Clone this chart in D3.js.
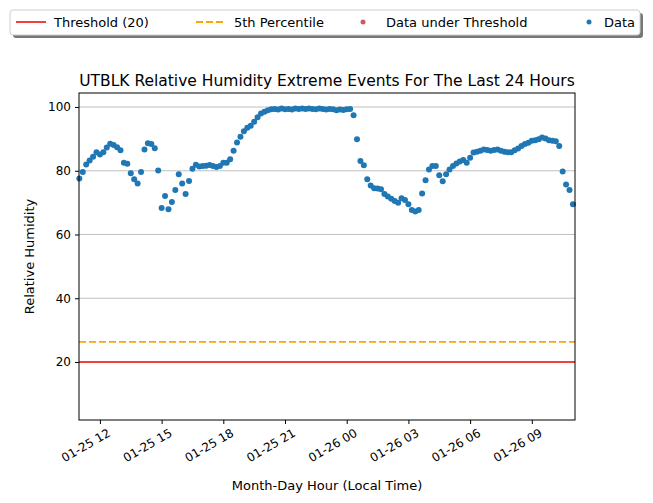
<!DOCTYPE html>
<html>
<head>
<meta charset="utf-8">
<script src="https://cdn.jsdelivr.net/npm/d3@7"></script>
<style>
  body { margin: 0; background: #fff; }
  text { font-family: "DejaVu Sans", sans-serif; }
</style>
</head>
<body>
<svg id="chart" width="653" height="503"></svg>
<script>
// readings every 10 minutes from 01-25 11:00
const startTime = new Date(2024, 0, 25, 11, 0);
const humidity = [
  77.6, 79.6, 82, 83.2, 84.4, 85.8, 85.1, 85.8, 87.3, 88.5, 88.1, 87.4, 86.4, 82.5, 82.2, 79.2, 77.3, 76, 79.6, 86.7,
  88.6, 88.4, 87.1, 80.1, 68.3, 72.1, 67.9, 70.2, 74, 78.9, 76, 72.7, 76.8, 80.6, 81.9,
  81.3, 81.5, 81.6, 81.8, 81.5, 81.2, 81.5, 82.5, 82.5, 83.6, 86.3, 88.9, 90.7, 92.4, 93.5, 94.1, 95.4, 96.8, 98, 98.5, 99, 99.3,
  99.4, 99.2, 99.5, 99.3, 99.4, 99.2, 99.5, 99.4, 99.5, 99.4, 99.5, 99.4, 99.3, 99.5, 99.4, 99.2, 99.4, 99.3, 99.0, 99.2, 99.1, 99.3, 99.4,
  97.4, 89.9, 83.1, 81.7, 77.3, 75.4, 74.5, 74.4, 74.2, 72.7, 71.9, 71.2, 70.5, 70, 71.4, 70.8, 69.5, 67.7, 67.2, 67.7,
  72.9, 77, 80.4, 81.5, 81.5, 78.6, 76.7, 78.9, 80.4, 81.5, 82.3, 82.9, 83.4, 82.5, 84.1, 85.7, 86, 86.3, 86.7, 86.5,
  86.3, 86.5, 86.7, 86.3, 86, 85.8, 85.8, 86.4, 87, 87.8, 88.4, 88.8, 89.4, 89.6, 89.9, 90.4, 90.1, 89.6, 89.4, 89.3,
  87.8, 79.8, 75.7, 74, 69.5
];
const threshold = 20;
const percentile5 = 26.3;
const yTicks = [20, 40, 60, 80, 100];
const tickHours = [
  new Date(2024, 0, 25, 12), new Date(2024, 0, 25, 15), new Date(2024, 0, 25, 18), new Date(2024, 0, 25, 21),
  new Date(2024, 0, 26, 0), new Date(2024, 0, 26, 3), new Date(2024, 0, 26, 6), new Date(2024, 0, 26, 9)
];

const data = humidity.map((v, i) => ({ t: new Date(startTime.getTime() + i * 600000), v }));

const svg = d3.select('#chart');
const plotLeft = 79, plotRight = 575, plotTop = 93, plotBottom = 420;

const x = d3.scaleTime()
  .domain([new Date(startTime.getTime() - 60000), new Date(data[data.length - 1].t.getTime() + 6 * 60000)])
  .range([plotLeft, plotRight]);
const y = d3.scaleLinear().domain([1.8, 104.4]).range([plotBottom, plotTop]);

// gridlines
svg.append('g').selectAll('line').data(yTicks).enter().append('line')
  .attr('x1', plotLeft).attr('x2', plotRight)
  .attr('y1', d => y(d)).attr('y2', d => y(d))
  .attr('stroke', '#b0b0b0').attr('stroke-width', 0.8);

// threshold lines
svg.append('line')
  .attr('x1', plotLeft).attr('x2', plotRight).attr('y1', y(threshold)).attr('y2', y(threshold))
  .attr('stroke', '#f04040').attr('stroke-width', 2);
svg.append('line')
  .attr('x1', plotLeft).attr('x2', plotRight).attr('y1', y(percentile5)).attr('y2', y(percentile5))
  .attr('stroke', 'orange').attr('stroke-width', 1.8).attr('stroke-dasharray', '7,3');

// points
svg.append('g').selectAll('circle').data(data).enter().append('circle')
  .attr('cx', d => x(d.t)).attr('cy', d => y(d.v)).attr('r', 3)
  .attr('fill', d => d.v < threshold ? 'indianred' : '#1f77b4');

// frame
svg.append('rect').attr('x', plotLeft).attr('y', plotTop)
  .attr('width', plotRight - plotLeft).attr('height', plotBottom - plotTop)
  .attr('fill', 'none').attr('stroke', '#000').attr('stroke-width', 1);

// axes
const fmt = d3.timeFormat('%m-%d %H');
const xAxis = svg.append('g').attr('transform', `translate(0,${plotBottom})`)
  .call(d3.axisBottom(x).tickValues(tickHours).tickFormat(fmt).tickSize(4).tickPadding(3));
xAxis.select('.domain').remove();
xAxis.selectAll('text')
  .attr('font-size', 12).attr('fill', '#000')
  .attr('text-anchor', 'end')
  .attr('transform', 'translate(2,0) rotate(-30)')
  .attr('dy', '0.9em').attr('dx', '0');

const yAxis = svg.append('g').attr('transform', `translate(${plotLeft},0)`)
  .call(d3.axisLeft(y).tickValues(yTicks).tickSize(4).tickPadding(4));
yAxis.select('.domain').remove();
yAxis.selectAll('text').attr('font-size', 12).attr('fill', '#000');

// labels
svg.append('text').attr('x', (plotLeft + plotRight) / 2).attr('y', 86).attr('text-anchor', 'middle')
  .attr('font-size', 15.5).text('UTBLK Relative Humidity Extreme Events For The Last 24 Hours');
svg.append('text').attr('x', (plotLeft + plotRight) / 2).attr('y', 490).attr('text-anchor', 'middle')
  .attr('font-size', 13).text('Month-Day Hour (Local Time)');
svg.append('text').attr('transform', `translate(34,${(plotTop + plotBottom) / 2}) rotate(-90)`)
  .attr('text-anchor', 'middle').attr('font-size', 13).text('Relative Humidity');

// legend
const lg = svg.append('g');
lg.append('rect').attr('x', 13).attr('y', 13).attr('width', 630).attr('height', 25).attr('rx', 3).attr('fill', '#777');
lg.append('rect').attr('x', 10).attr('y', 10).attr('width', 630).attr('height', 25).attr('rx', 3)
  .attr('fill', '#fff').attr('stroke', '#ccc');
lg.append('line').attr('x1', 16).attr('x2', 46).attr('y1', 22).attr('y2', 22).attr('stroke', '#f04040').attr('stroke-width', 2);
lg.append('text').attr('x', 54).attr('y', 27).attr('font-size', 13).text('Threshold (20)');
lg.append('line').attr('x1', 196).attr('x2', 226).attr('y1', 22).attr('y2', 22)
  .attr('stroke', 'orange').attr('stroke-width', 1.8).attr('stroke-dasharray', '7,3');
lg.append('text').attr('x', 234).attr('y', 27).attr('font-size', 13).text('5th Percentile');
lg.append('circle').attr('cx', 363).attr('cy', 22).attr('r', 2.5).attr('fill', 'indianred');
lg.append('text').attr('x', 386).attr('y', 27).attr('font-size', 13).text('Data under Threshold');
lg.append('circle').attr('cx', 589).attr('cy', 22).attr('r', 2.5).attr('fill', '#1f77b4');
lg.append('text').attr('x', 604).attr('y', 27).attr('font-size', 13).text('Data');
</script>
</body>
</html>
